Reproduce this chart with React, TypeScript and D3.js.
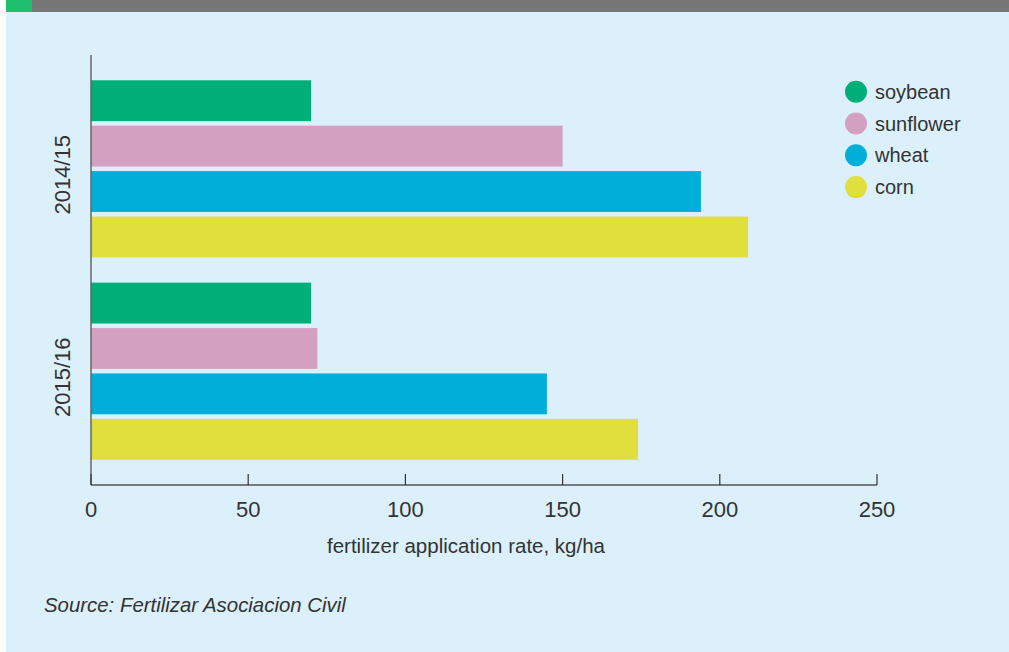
import React from "react";
import * as d3 from "d3";

const years = ["2014/15", "2015/16"];
const crops = ["soybean", "sunflower", "wheat", "corn"];
const cropColors = ["#00ae78", "#d3a0c1", "#00afd9", "#e1df3d"];
const values2014 = [70, 150, 194, 209];
const values2015 = [70, 72, 145, 174];
const xTicks = [0, 50, 100, 150, 200, 250];

const W = 1009;
const H = 652;
const FONT = "'Liberation Sans', Arial, sans-serif";
const TEXT = "#333333";

export default function App() {
  const series = [values2014, values2015];
  const x = d3.scaleLinear().domain([0, 250]).range([91, 877]);
  const yOuter = d3.scaleBand<string>().domain(years).range([55, 485]).paddingInner(0.125).paddingOuter(0.125);
  const yInner = d3.scaleBand<string>().domain(crops).range([0, yOuter.bandwidth()]).paddingInner(0.1);
  const axisY = 485;

  return (
    <svg width={W} height={H} style={{ position: "absolute", left: 0, top: 0, display: "block" }}>
      <rect x={0} y={0} width={W} height={H} fill="#ffffff" />
      <rect x={6} y={0} width={W - 6} height={H} fill="#dbf0fa" />
      <rect x={6} y={0} width={W - 6} height={12} fill="#777777" />
      <rect x={6} y={0} width={26} height={12} fill="#1dbf6d" />

      {years.map((yr, gi) => (
        <g key={yr} transform={`translate(0,${yOuter(yr)})`}>
          {crops.map((c, ci) => (
            <rect
              key={c}
              x={x(0)}
              y={yInner(c)}
              width={x(series[gi][ci]) - x(0)}
              height={yInner.bandwidth()}
              fill={cropColors[ci]}
            />
          ))}
          <text
            transform={`translate(70,${yOuter.bandwidth() / 2 + 6}) rotate(-90)`}
            textAnchor="middle"
            fontFamily={FONT}
            fontSize={22}
            fill={TEXT}
          >
            {yr}
          </text>
        </g>
      ))}

      <line x1={x(0)} x2={x(0)} y1={55} y2={axisY} stroke="#666" strokeWidth={1.5} />
      <line x1={x(0)} x2={x(250)} y1={axisY} y2={axisY} stroke="#555" strokeWidth={1.3} />
      {xTicks.map((t) => (
        <g key={t}>
          <line x1={x(t)} x2={x(t)} y1={axisY} y2={axisY - 11} stroke="#333" strokeWidth={1.2} />
          <text x={x(t)} y={517} textAnchor="middle" fontFamily={FONT} fontSize={22} fill={TEXT}>
            {t}
          </text>
        </g>
      ))}
      <text x={466} y={553} textAnchor="middle" fontFamily={FONT} fontSize={20.5} fill={TEXT}>
        fertilizer application rate, kg/ha
      </text>

      {crops.map((c, i) => (
        <g key={c} transform={`translate(0,${91.7 + i * 31.8})`}>
          <circle cx={856} cy={0} r={11} fill={cropColors[i]} />
          <text x={875} y={7} fontFamily={FONT} fontSize={20} fill={TEXT}>
            {c}
          </text>
        </g>
      ))}

      <text x={44} y={612} fontFamily={FONT} fontSize={20.4} fontStyle="italic" fill={TEXT}>
        Source: Fertilizar Asociacion Civil
      </text>
    </svg>
  );
}
